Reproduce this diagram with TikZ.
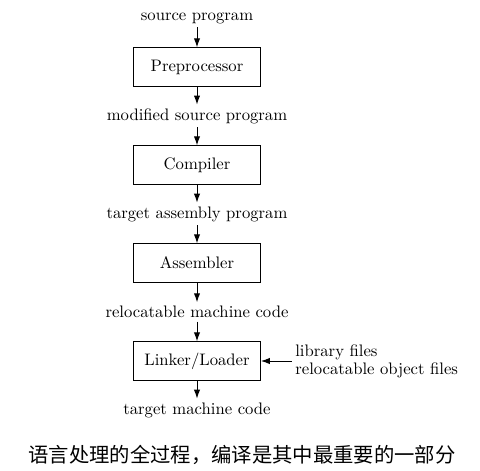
\documentclass[tikz,border=0pt]{standalone}
\usepackage{fontspec}
\newfontfamily\cjk{Noto Sans CJK SC}
\usetikzlibrary{arrows.meta, positioning}

\begin{document}
\begin{tikzpicture}[
            > = {Latex[length=5.4pt, width=3.8pt]}, % arrow head style
            node distance = 29.4pt, % distance between nodes
            semithick % line style
        ]

        \tikzstyle{block}=[
            draw = black,
            minimum width = 76pt,
            minimum height = 23pt
        ]
        \tikzstyle{datatext}=[
            inner sep = 2pt
        ]

        \useasboundingbox (-118.2pt,10.8pt) rectangle (169.8pt,-271.8pt);

        \node[datatext] (src) {source program};
        \node[block] (pre) [below of=src] {Preprocessor};
        \node[datatext] (mod) [below of=pre] {modified source program};
        \node[block] (comp) [below of=mod] {Compiler};
        \node[datatext] (asm) [below of=comp] {target assembly program};
        \node[block] (as) [below of=asm] {Assembler};
        \node[datatext] (reloc) [below of=as] {relocatable machine code};
        \node[block] (ld) [below of=reloc] {Linker/Loader};
        \node[datatext] (tgt) [below of=ld] {target machine code};
        \node[datatext, align=left, right=18.4pt of ld] (lib) {library files\\[-1.2pt]relocatable object files};

        \node[font=\cjk\fontsize{12.2}{15}\selectfont] (cap) at (27pt,-262pt)
            {语言处理的全过程，编译是其中最重要的一部分};

        \path[->] (src) edge (pre);
        \path[->] (pre) edge (mod);
        \path[->] (mod) edge (comp);
        \path[->] (comp) edge (asm);
        \path[->] (asm) edge (as);
        \path[->] (as) edge (reloc);
        \path[->] (reloc) edge (ld);
        \path[->] (ld) edge (tgt);
        \path[->] (lib) edge (ld);

  \end{tikzpicture}
\end{document}
